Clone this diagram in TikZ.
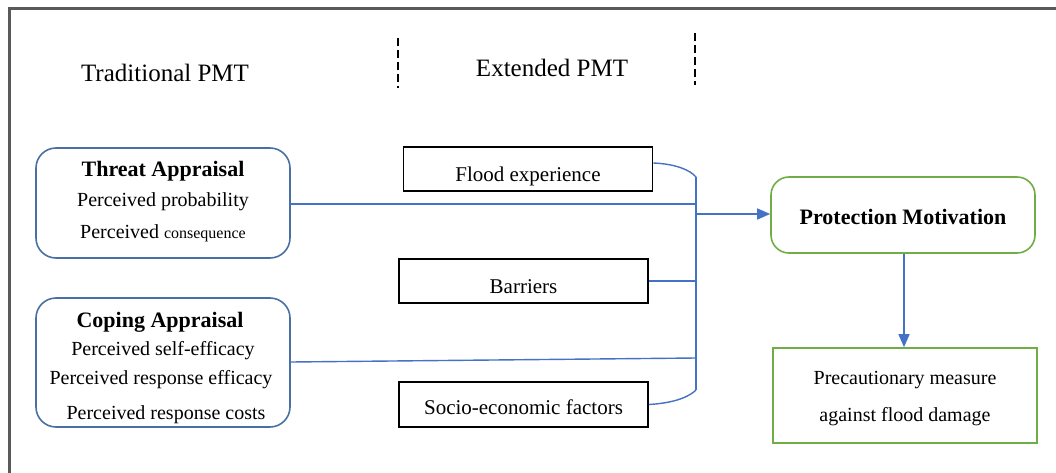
\documentclass[tikz,border=0pt]{standalone}
\usepackage{fontspec}
\setmainfont{Liberation Serif}
\usetikzlibrary{arrows.meta}
\definecolor{lineblue}{HTML}{4472C4}
\definecolor{boxblue}{HTML}{4A6FA5}
\definecolor{boxgreen}{HTML}{70AD47}
\definecolor{framegray}{HTML}{5A5A5A}
\newcommand\lowertext[2]{\raisebox{-#1}[\height][\depth]{#2}}
\tikzset{
  body/.style={font=\fontsize{20}{24}\selectfont, inner sep=0pt},
  head/.style={font=\fontsize{25}{30}\selectfont, inner sep=0pt},
  bhead/.style={font=\fontsize{22}{26}\selectfont\bfseries, inner sep=0pt},
  appbox/.style={draw=boxblue, line width=1.6pt, rounded corners=20pt, minimum width=254pt, inner sep=0pt},
  factbox/.style={draw=black, line width=1.6pt, minimum width=249pt, minimum height=44pt, inner sep=0pt, font=\fontsize{21}{25}\selectfont},
  grbox/.style={draw=boxgreen, line width=1.6pt, minimum width=264pt, inner sep=0pt},
  conn/.style={draw=lineblue, line width=1.4pt},
  arr/.style={conn, -{Triangle[length=13pt,width=11pt]}},
  divider/.style={draw=black, line width=2.4pt, dash pattern=on 8pt off 4pt}
}
\begin{document}
\begin{tikzpicture}[x=1pt,y=-1pt]
\useasboundingbox (0,0) rectangle (1056,473);
% frame
\draw[framegray, line width=3pt] (9,473) -- (9,9) -- (1056,9);
% headers
\node[head] (trad) at (165,73) {Traditional PMT};
\node[head] (ext) at (552,68) {Extended PMT};
\coordinate (d1a) at (398,38); \coordinate (d1b) at (398,88);
\coordinate (d2a) at (695,33); \coordinate (d2b) at (695,85);
\draw[divider] (d1a) -- (d1b);
\draw[divider] (d2a) -- (d2b);
% appraisal boxes
\node[appbox, minimum height=110pt] (threat) at (163,203) {};
\node[bhead] (threatT) at (163,171) {Threat Appraisal};
\node[body] (threat1) at (163,202) {Perceived probability};
\node[body] (threat2) at (163,233) {Perceived {\fontsize{16}{20}\selectfont consequence}};
\node[appbox, minimum height=129pt] (coping) at (163,362.5) {};
\node[bhead] (copingT) at (160,322) {Coping Appraisal};
\node[body] (coping1) at (163,351) {Perceived self-efficacy};
\node[body] (coping2) at (161,380) {Perceived response efficacy};
\node[body] (coping3) at (166,415) {Perceived response costs};
% factor boxes
\node[factbox] (flood) at (528,169) {\lowertext{7pt}{Flood experience}};
\node[factbox] (barriers) at (523.5,281) {\lowertext{6pt}{Barriers}};
\node[factbox, minimum height=45pt] (socio) at (523.5,404.5) {\lowertext{3pt}{Socio-economic factors}};
% outcome boxes
\node[grbox, rounded corners=18pt, minimum height=76pt, font=\fontsize{22}{26}\selectfont\bfseries] (prot) at (903,215) {\lowertext{2pt}{Protection Motivation}};
\node[grbox, minimum height=95pt, align=center, font=\fontsize{20}{37}\selectfont] (prec) at (905,395.5) {\lowertext{3pt}{Precautionary measure}\\\lowertext{3pt}{against flood damage}};
% bus
\coordinate (bustop) at (696,177);
\coordinate (busbot) at (696,390);
\coordinate (busmid) at (696,214);
\draw[conn] (bustop) -- (busbot);
\draw[conn] ([yshift=6pt]flood.east) .. controls (676,164) and (690,170) .. (bustop);
\draw[conn] (socio.east) .. controls (676,403) and (690,396) .. (busbot);
\draw[conn] (barriers.east) -- (barriers.east -| bustop);
\draw[conn] (threat.east |- 0,204) -- (696,204);
\draw[conn] (coping.east |- 0,362) -- (696,358);
\draw[arr] (busmid) -- (prot.west |- busmid);
\coordinate (downx) at (904,0);
\draw[arr] (prot.south -| downx) -- (prec.north -| downx);
\end{tikzpicture}
\end{document}
